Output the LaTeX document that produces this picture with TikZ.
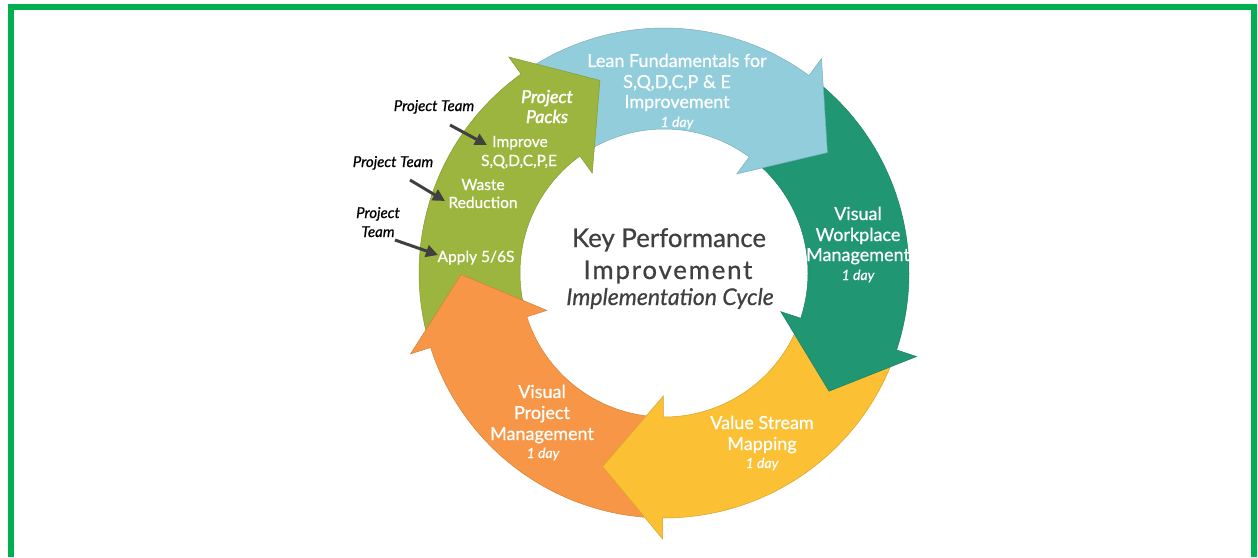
\documentclass[tikz,border=0pt]{standalone}
\usepackage{fontspec}
\setmainfont{Lato}[FakeBold=0.7]
\newfontfamily\packsfont{Lato}[FakeBold=1.8]
\newfontfamily\spacedfont{Lato}[FakeBold=0.7,LetterSpace=7]
\usetikzlibrary{arrows.meta}
\definecolor{cblue}{RGB}{146,205,220}
\definecolor{cteal}{RGB}{33,150,115}
\definecolor{cyellow}{RGB}{251,192,52}
\definecolor{corange}{RGB}{247,150,70}
\definecolor{cgreen}{RGB}{156,181,62}
\definecolor{cborder}{RGB}{0,176,80}
\definecolor{ctext}{RGB}{64,64,64}
\begin{document}
\begin{tikzpicture}[x=1pt,y=-1pt,
  base/.style={anchor=base,inner sep=0pt},
  lbl/.style={base,text=white,font=\fontsize{18}{21}\selectfont},
  dayl/.style={base,text=white,font=\fontsize{14}{16}\selectfont\itshape},
  glbl/.style={base,text=white,font=\fontsize{15.5}{18}\selectfont},
  packs/.style={base,text=white,font=\packsfont\fontsize{17.8}{20}\selectfont\itshape},
  team/.style={base,text=black,font=\fontsize{15}{17}\selectfont\itshape},
  title/.style={base,text=ctext,font=\fontsize{25.8}{30}\selectfont},
  title2/.style={base,text=ctext,font=\spacedfont\fontsize{25.8}{30}\selectfont},
  subtitle/.style={base,text=ctext,font=\fontsize{23}{26}\selectfont\itshape},
  ptr/.style={draw=ctext,line width=3pt,-{Triangle[length=12pt,width=12pt]}},
  frame/.style={draw=cborder,line width=6pt,line join=miter}
]
\useasboundingbox (0,0) rectangle (1258,557);
\draw[frame] (11,557) -- (11,7) -- (1254,7) -- (1254,557);

\begin{scope}[shift={(664,273)}]
  % bands
  \foreach \c/\k in {cgreen/-1, cblue/0, cteal/1, cyellow/2, corange/3} {
    \pgfmathsetmacro\B{-53.7+72*\k}
    \pgfmathsetmacro\S{\B-71}
    \pgfmathsetmacro\E{\B+1}
    \filldraw[fill=\c, draw=\c!85!black, line width=0.5pt]
      plot[domain=\S:\E, samples=50] (\x:245) --
      plot[domain=\E:\S, samples=50] (\x:144) -- cycle;
  }
  % heads
  \foreach \c/\k in {cgreen/-1, cblue/0, cteal/1, cyellow/2, corange/3} {
    \pgfmathsetmacro\B{-53.7+72*\k}
    \pgfmathsetmacro\T{\B+17.3}
    \filldraw[fill=\c, draw=\c!85!black, line width=0.5pt]
      (\B:245) -- (\B:266) -- (\T:203) -- (\B:123) -- (\B:144);
  }
\end{scope}

% centre
\node[title] (kp) at (669,247) {Key Performance};
\node[title2] (ki) at (668,279) {Improvement};
\node[subtitle] (kc) at (670,305) {Implementation Cycle};

% blue
\node[lbl] (b1) at (677,67) {Lean Fundamentals for};
\node[lbl] (b2) at (677,88) {S,Q,D,C,P \& E};
\node[lbl] (b3) at (677,108) {Improvement};
\node[dayl] (b4) at (677,127) {1 day};

% teal
\node[lbl] (t1) at (858,220) {Visual};
\node[lbl] (t2) at (858,241) {Workplace};
\node[lbl] (t3) at (858,261) {Management};
\node[dayl] (t4) at (858,280) {1 day};

% yellow
\node[lbl] (y1) at (762,429) {Value Stream};
\node[lbl] (y2) at (762,450) {Mapping};
\node[dayl] (y3) at (762,468) {1 day};

% orange
\node[lbl] (o1) at (542,398) {Visual};
\node[lbl] (o2) at (542,419) {Project};
\node[lbl] (o3) at (542,440) {Management};
\node[dayl] (o4) at (543,458) {1 day};

% green
\node[packs] (g1) at (547,103) {Project};
\node[packs] (g2) at (547,123) {Packs};
\node[glbl] (g3) at (520,147) {Improve};
\node[glbl] (g4) at (519,166) {S,Q,D,C,P,E};
\node[glbl] (g5) at (483,190) {Waste};
\node[glbl] (g6) at (483,208) {Reduction};
\node[glbl] (g7) at (476,262) {Apply 5/6S};

% project team labels
\node[team] (pt1) at (434,111) {Project Team};
\node[team] (pt2) at (393,167) {Project Team};
\node[team] (pt3a) at (378,218) {Project};
\node[team] (pt3b) at (378,237) {Team};

\coordinate (a1s) at (450,125); \coordinate (a1e) at (487,145);
\coordinate (a2s) at (410,180); \coordinate (a2e) at (445,201);
\coordinate (a3s) at (395,240); \coordinate (a3e) at (438,255);
\draw[ptr] (a1s) -- (a1e);
\draw[ptr] (a2s) -- (a2e);
\draw[ptr] (a3s) -- (a3e);
\end{tikzpicture}
\end{document}
